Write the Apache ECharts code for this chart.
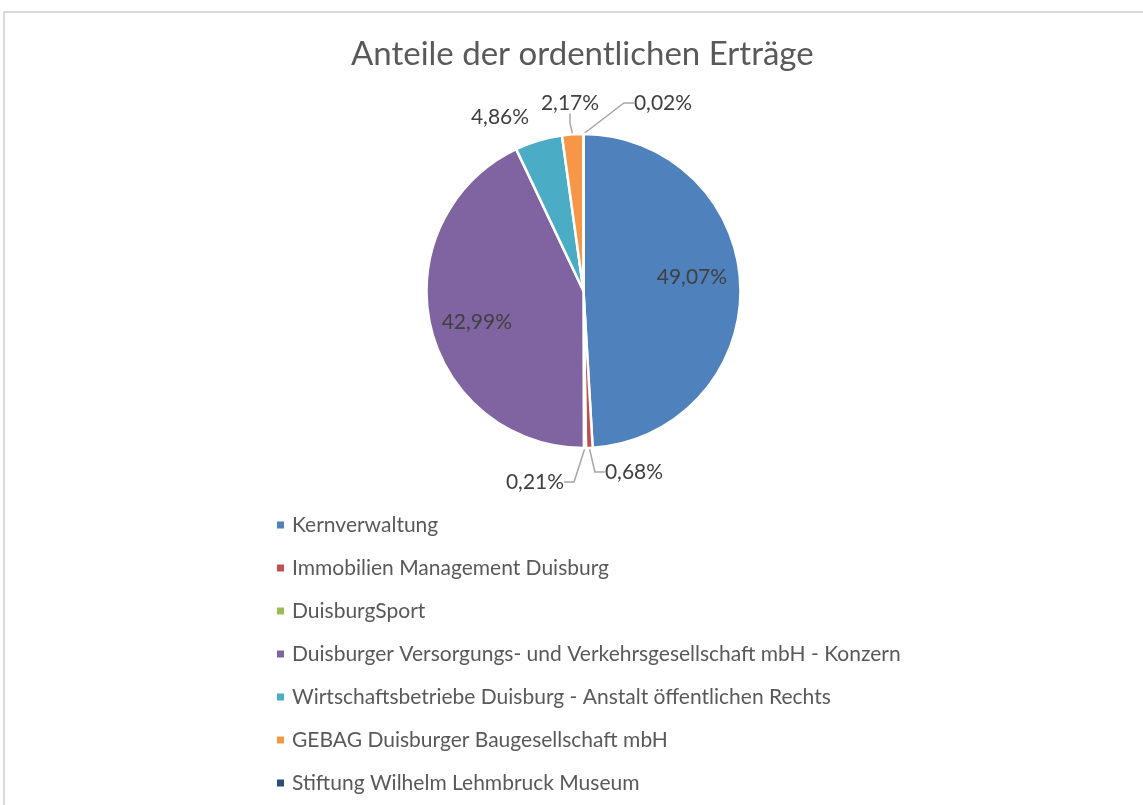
<!DOCTYPE html>
<html>
<head>
<meta charset="utf-8">
<script src="https://cdn.jsdelivr.net/npm/echarts@6/dist/echarts.min.js"></script>
<style>
  html, body { margin: 0; padding: 0; background: #fff; }
  #frame { position: absolute; left: 3px; top: 11px; width: 1200px; height: 900px; border: 2px solid #d9d9d9; }
  #chart { position: absolute; left: 0; top: 0; width: 1143px; height: 805px; }
</style>
</head>
<body>
<div id="frame"></div>
<div id="chart"></div>
<script>
// Anteile der ordentlichen Erträge
var names = [
    'Kernverwaltung',
    'Immobilien Management Duisburg',
    'DuisburgSport',
    'Duisburger Versorgungs- und Verkehrsgesellschaft mbH - Konzern',
    'Wirtschaftsbetriebe Duisburg - Anstalt öffentlichen Rechts',
    'GEBAG Duisburger Baugesellschaft mbH',
    'Stiftung Wilhelm Lehmbruck Museum'
];
var shares = [49.07, 0.68, 0.21, 42.99, 4.86, 2.17, 0.02];
var colors = ['#4F81BD', '#C0504D', '#9BBB59', '#8064A2', '#4BACC6', '#F79646', '#2C4D75'];

// big slices get their label inside
var insideLabel = [true, false, false, true, false, false, false];

// where the small labels were dragged to (label centre, px)
var labelSpot = {
    1: [634, 472],
    2: [535, 482],
    4: [500, 117],
    5: [570, 103],
    6: [663, 103]
};
// small extra nudge for the inside labels
var insideNudge = {
    0: [-4, -10],
    3: [3, 6]
};

var pieCenter = [583.5, 291];
var pieRadius = 157;

var pieData = names.map(function (n, i) {
    var item = { name: n, value: shares[i], itemStyle: { color: colors[i] } };
    if (insideLabel[i]) {
        item.label = { position: 'inside' };
        item.labelLine = { show: false };
    }
    if (i == 4) {
        item.labelLine = { show: false };
    }
    return item;
});

var chart = echarts.init(document.getElementById('chart'));
var option = {
    animation: false,
    title: {
        text: 'Anteile der ordentlichen Erträge',
        left: 346,
        top: 33,
        textStyle: { fontFamily: 'Lato', fontSize: 33, fontWeight: 'normal', color: '#595959' }
    },
    legend: {
        orient: 'vertical',
        left: 277,
        top: 514,
        padding: 0,
        itemWidth: 7,
        itemHeight: 7,
        itemGap: 21,
        icon: 'rect',
        data: names,
        itemStyle: { borderWidth: 0 },
        textStyle: { fontFamily: 'Lato', fontSize: 21, color: '#595959', lineHeight: 22, padding: [0, 0, 0, 3] }
    },
    series: [
        {
            type: 'pie',
            center: pieCenter,
            radius: pieRadius,
            startAngle: 90,
            clockwise: true,
            data: pieData,
            itemStyle: { borderColor: '#fff', borderWidth: 2.5 },
            label: {
                fontFamily: 'Lato',
                fontSize: 21,
                color: '#404040',
                formatter: function (p) { return p.value.toFixed(2).replace('.', ',') + '%'; }
            },
            labelLine: { length: 12, length2: 10, lineStyle: { color: '#a6a6a6', width: 1.5 } },
            labelLayout: function (p) {
                var spot = labelSpot[p.dataIndex];
                if (spot) {
                    return { x: spot[0], y: spot[1], align: 'center', verticalAlign: 'middle' };
                }
                // push inside labels further out (Excel puts them at ~0.7 r)
                var r = p.labelRect;
                var cx = r.x + r.width / 2 - pieCenter[0];
                var cy = r.y + r.height / 2 - pieCenter[1];
                var nudge = insideNudge[p.dataIndex] || [0, 0];
                return { dx: cx * 0.38 + nudge[0], dy: cy * 0.38 + nudge[1] };
            },
            emphasis: { disabled: true }
        }
    ]
};
chart.setOption(option);
</script>
</body>
</html>
